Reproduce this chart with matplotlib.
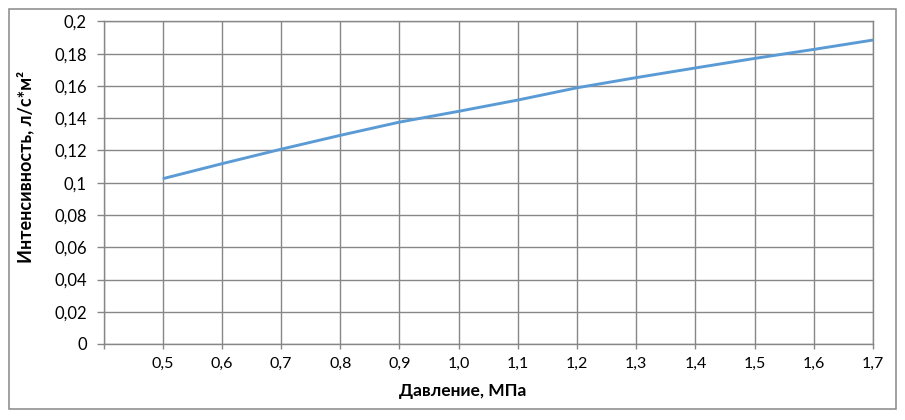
import matplotlib
matplotlib.use("Agg")
import matplotlib.pyplot as plt
from matplotlib.patches import Rectangle

# данные
pressure = [0.5, 0.6, 0.7, 0.8, 0.9, 1.0, 1.1, 1.2, 1.3, 1.4, 1.5, 1.6, 1.7]
intensity = [0.1025, 0.1118, 0.1208, 0.1294, 0.1376, 0.1443, 0.1513,
             0.1589, 0.1652, 0.1712, 0.1771, 0.1827, 0.1885]
x_ticks = [0.4] + pressure
x_labels = [""] + ["{:.1f}".format(v).replace(".", ",") for v in pressure]
y_ticks = [0, 0.02, 0.04, 0.06, 0.08, 0.1, 0.12, 0.14, 0.16, 0.18, 0.2]
y_labels = ["0", "0,02", "0,04", "0,06", "0,08", "0,1", "0,12", "0,14", "0,16", "0,18", "0,2"]

plt.rcParams['font.family'] = ['Lato', 'DejaVu Sans']
grid_col = '#878787'

fig = plt.figure(figsize=(9.05, 4.2), dpi=100)
# рамка вокруг диаграммы
fig.patches.append(Rectangle((8.5 / 905, 1 - 408.5 / 420), 887.5 / 905, 399.5 / 420,
                             transform=fig.transFigure, fill=False,
                             edgecolor=grid_col, linewidth=1.1))

ax = fig.add_axes([103.5 / 905, 1 - 344 / 420, (873 - 103.5) / 905, (344 - 21.5) / 420])
ax.plot(pressure, intensity, color='#5B9BD5', linewidth=2.1, solid_capstyle='butt')

ax.set_xlim(0.4, 1.7)
ax.set_ylim(0, 0.2)
ax.set_xticks(x_ticks)
ax.set_xticklabels(x_labels)
ax.set_yticks(y_ticks)
ax.set_yticklabels(y_labels)

ax.grid(True, color=grid_col, linewidth=1.0)
ax.set_axisbelow(True)
for s in ax.spines.values():
    s.set_color(grid_col)
    s.set_linewidth(1.0)

ax.tick_params(axis='x', direction='out', length=3.6, width=1.0, color=grid_col,
               labelsize=11.5, pad=6)
ax.tick_params(axis='y', direction='out', length=5, width=1.0, color=grid_col,
               labelsize=12, pad=7)

ax.set_xlabel("Давление, МПа", fontsize=12.5, fontweight='bold')
ax.set_ylabel("Интенсивность, л/с*м²", fontsize=13, fontweight='bold')
ax.xaxis.set_label_coords(0.4665, -0.122)
ax.yaxis.set_label_coords(-0.09, 0.55)

fig.savefig("out.png", dpi=100)
